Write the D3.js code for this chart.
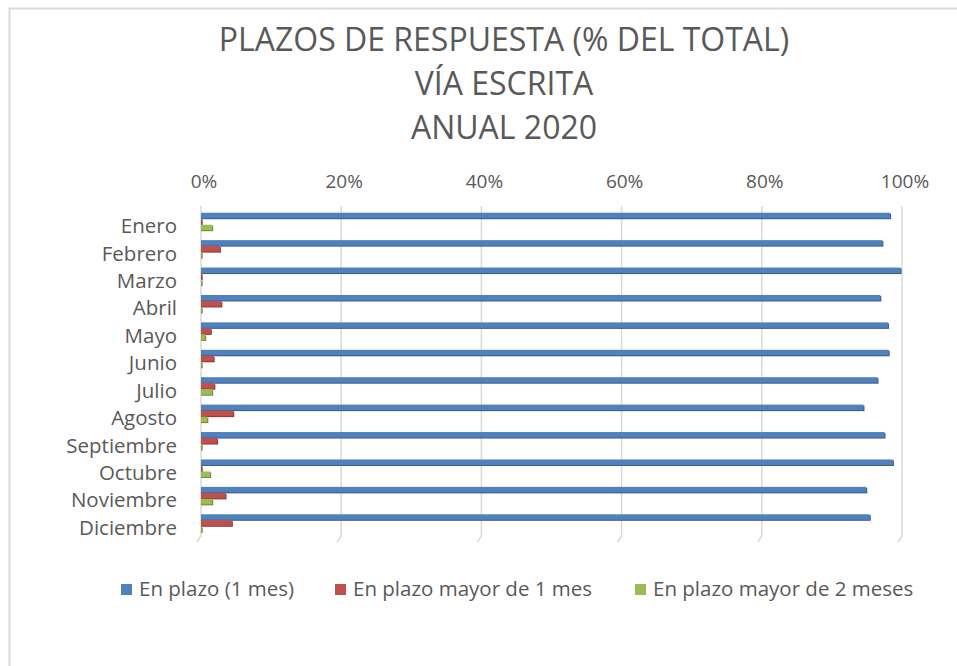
<!DOCTYPE html>
<html>
<head>
<meta charset="utf-8">
<script src="https://cdn.jsdelivr.net/npm/d3@7"></script>
<style>
  body { margin: 0; background: #fff; }
  svg text { font-family: "Open Sans", "Noto Sans", sans-serif; fill: #595959; }
</style>
</head>
<body>
<div id="chart"></div>
<script>
// months (top to bottom)
const months = ["Enero", "Febrero", "Marzo", "Abril", "Mayo", "Junio", "Julio",
  "Agosto", "Septiembre", "Octubre", "Noviembre", "Diciembre"];
const seriesNames = ["En plazo (1 mes)", "En plazo mayor de 1 mes", "En plazo mayor de 2 meses"];
// percentages
const enPlazo = [98.3, 97.2, 99.8, 96.9, 98.0, 98.1, 96.5, 94.5, 97.5, 98.7, 94.9, 95.4];
const mayor1 = [0.1, 2.7, 0.1, 2.9, 1.4, 1.8, 1.9, 4.6, 2.3, 0.1, 3.5, 4.4];
const mayor2 = [1.6, 0.1, 0.1, 0.1, 0.6, 0.1, 1.6, 0.9, 0.1, 1.3, 1.6, 0.1];
const xTicks = [0, 0.2, 0.4, 0.6, 0.8, 1];
const titleLines = ["PLAZOS DE RESPUESTA (% DEL TOTAL)", "VÍA ESCRITA", "ANUAL 2020"];

const colors = ["#4f81bd", "#c0504d", "#9bbb59"];
const darkColors = ["#385d8a", "#8c3836", "#71893f"];

const width = 957, height = 666;
const svg = d3.select("#chart").append("svg")
  .attr("width", width)
  .attr("height", height);

// outer chart frame (runs off the right/bottom edge)
svg.append("rect")
  .attr("x", 9.5).attr("y", 8.5)
  .attr("width", 960).attr("height", 670)
  .attr("fill", "none")
  .attr("stroke", "#d9d9d9")
  .attr("stroke-width", 2);

// title
svg.append("g").selectAll("text")
  .data(titleLines)
  .join("text")
  .attr("x", 504)
  .attr("y", (d, i) => 51 + i * 44)
  .attr("text-anchor", "middle")
  .style("font-size", "32px")
  .text(d => d);

const xScale = d3.scaleLinear().domain([0, 1]).range([201, 902]);
const yScale = d3.scaleBand().domain(months).range([208, 537]);
const inner = d3.scaleBand().domain([0, 1, 2]).range([-9, 9]);

// gridlines with slanted 3D foot
const grid = svg.append("g");
xTicks.forEach(t => {
  const x = xScale(t);
  grid.append("path")
    .attr("d", `M${x},206 L${x},536 L${x - 4},542`)
    .attr("fill", "none")
    .attr("stroke", "#d9d9d9")
    .attr("stroke-width", 1.5);
});

// top axis labels
svg.append("g").selectAll("text")
  .data(xTicks)
  .join("text")
  .attr("x", d => xScale(d) + 3)
  .attr("y", 188)
  .attr("text-anchor", "middle")
  .style("font-size", "19px")
  .text(d => d3.format(".0%")(d));

// category labels
svg.append("g").selectAll("text")
  .data(months)
  .join("text")
  .attr("x", 177)
  .attr("y", d => yScale(d) + yScale.bandwidth() / 2 + 11.5)
  .attr("text-anchor", "end")
  .style("font-size", "20.5px")
  .text(d => d);

// bars
const allSeries = [enPlazo, mayor1, mayor2];
allSeries.forEach((values, si) => {
  const g = svg.append("g");
  const rows = months.map((m, i) => ({month: m, value: values[i] / 100}));
  const barH = inner.bandwidth() - 0.5;
  // dark side for the 3D look
  g.selectAll("rect.side")
    .data(rows)
    .join("rect")
    .attr("class", "side")
    .attr("x", xScale(0))
    .attr("y", d => yScale(d.month) + yScale.bandwidth() / 2 + inner(si) + 1)
    .attr("width", d => Math.max(1, xScale(d.value) - xScale(0) + 1))
    .attr("height", barH)
    .attr("fill", darkColors[si]);
  g.selectAll("rect.face")
    .data(rows)
    .join("rect")
    .attr("class", "face")
    .attr("x", xScale(0))
    .attr("y", d => yScale(d.month) + yScale.bandwidth() / 2 + inner(si))
    .attr("width", d => Math.max(0.5, xScale(d.value) - xScale(0)))
    .attr("height", barH)
    .attr("fill", colors[si]);
});

// legend
const legendX = [121, 335, 635];
const legend = svg.append("g").selectAll("g")
  .data(seriesNames)
  .join("g")
  .attr("transform", (d, i) => `translate(${legendX[i]},584)`);
legend.append("rect")
  .attr("width", 11).attr("height", 11)
  .attr("fill", (d, i) => colors[i]);
legend.append("text")
  .attr("x", 18)
  .attr("y", 12)
  .style("font-size", "20.5px")
  .text(d => d);
</script>
</body>
</html>
